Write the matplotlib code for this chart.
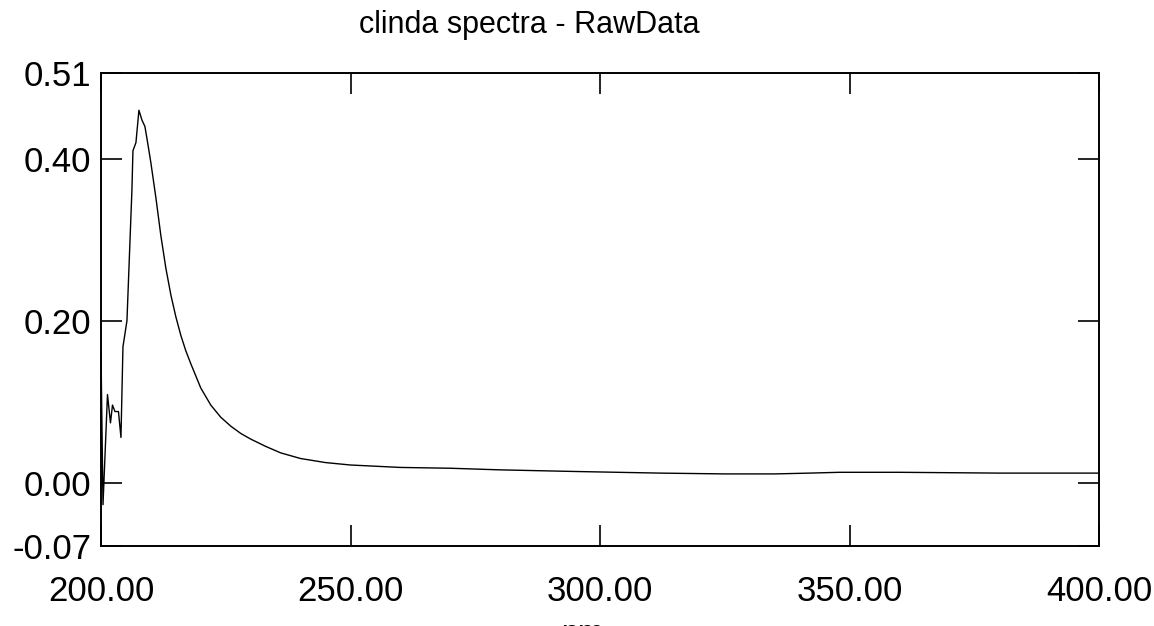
import matplotlib
matplotlib.use("Agg")
import matplotlib.pyplot as plt

plt.rcParams['font.family'] = ['Liberation Sans', 'DejaVu Sans']

# wavelength (nm) and absorbance
wavelength = [200.0, 200.4, 201.3, 201.9, 202.3, 202.8, 203.5, 204.0, 204.4,
              205.2, 206.2, 206.4, 207.0, 207.6, 208.2, 208.8, 209.4, 210.0,
              211.0, 212.0, 213.0, 214.0, 215.0, 216.0, 217.0, 218.0, 219.0,
              220.0, 222.0, 224.0, 226.0, 228.0, 230.0, 233.0, 236.0, 240.0,
              245.0, 250.0, 260.0, 270.0, 280.0, 295.0, 312.0, 325.0, 335.0,
              342.0, 348.0, 360.0, 380.0, 400.0]
absorbance = [0.160, -0.027, 0.109, 0.074, 0.096, 0.088, 0.088, 0.056, 0.168,
              0.200, 0.362, 0.410, 0.420, 0.460, 0.448, 0.440, 0.418, 0.395,
              0.352, 0.305, 0.265, 0.232, 0.205, 0.182, 0.163, 0.147, 0.132,
              0.117, 0.096, 0.081, 0.070, 0.061, 0.054, 0.045, 0.037, 0.030,
              0.025, 0.022, 0.019, 0.018, 0.016, 0.014, 0.012, 0.011, 0.011,
              0.012, 0.013, 0.013, 0.012, 0.012]

y_lo, y_hi = -0.078, 0.506
y_ticks = [y_lo, 0.0, 0.2, 0.4, y_hi]
y_labels = ['-0.07', '0.00', '0.20', '0.40', '0.51']
x_ticks = [200, 250, 300, 350, 400]
x_labels = ['200.00', '250.00', '300.00', '350.00', '400.00']

fig = plt.figure(figsize=(11.54, 6.26), dpi=100)
ax = fig.add_axes([101 / 1154, 1 - 546 / 626, 998 / 1154, 473 / 626])

ax.plot(wavelength, absorbance, color='black', linewidth=1.0)

ax.set_xlim(200, 400)
ax.set_ylim(y_lo, y_hi)
ax.set_xticks(x_ticks)
ax.set_xticklabels(x_labels)
ax.set_yticks(y_ticks)
ax.set_yticklabels(y_labels)

ax.tick_params(direction='in', length=15, width=1.2, labelsize=25,
               top=True, right=True, colors='black')
ax.tick_params(axis='x', pad=21)
ax.tick_params(axis='y', pad=7)
for s in ax.spines.values():
    s.set_linewidth(1.4)

fig.text(529 / 1154, 1 - 33 / 626, 'clinda spectra - RawData',
         ha='center', va='baseline', fontsize=22)
# axis label sits half off the bottom edge, as in the reference
fig.text(0.505, 1 - 619 / 626, 'nm', ha='center', va='top', fontsize=22)

fig.savefig('out.png', dpi=100)
